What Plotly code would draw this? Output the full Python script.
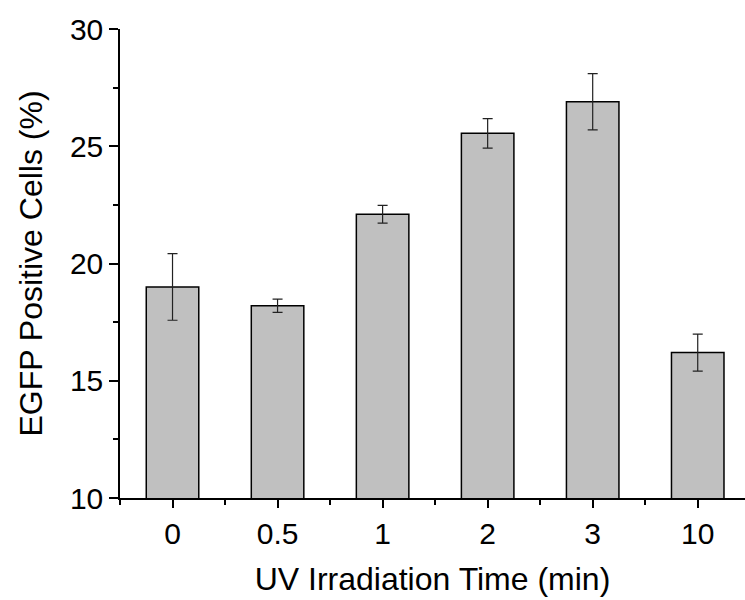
import plotly.graph_objects as go

categories = ["0", "0.5", "1", "2", "3", "10"]
values = [19.0, 18.2, 22.1, 25.55, 26.9, 16.2]
errors = [1.42, 0.28, 0.38, 0.63, 1.2, 0.79]
y_ticks = [10, 15, 20, 25, 30]

xpos = list(range(len(categories)))

fig = go.Figure()
fig.add_trace(go.Bar(
    x=xpos, y=values, width=0.5,
    marker=dict(color="#C0C0C0", line=dict(color="black", width=1.5)),
    error_y=dict(type="data", array=errors, visible=True, color="#222222",
                 thickness=1.2, width=5),
))

font = "Liberation Sans, Arial, sans-serif"
fig.update_layout(
    width=745, height=600,
    margin=dict(l=120, r=0, t=29, b=102),
    plot_bgcolor="white", paper_bgcolor="white",
    showlegend=False,
    font=dict(family=font, size=30, color="black"),
)
fig.update_xaxes(
    range=[-0.5, 5.45], tickmode="array", tickvals=xpos, ticktext=categories,
    showline=True, linecolor="black", linewidth=1.5,
    ticks="outside", ticklen=8, tickwidth=1.5, tickcolor="black",
    minor=dict(ticks="outside", ticklen=5, tickwidth=1.5, tickcolor="black",
               tick0=-0.5, dtick=0.5),
    showgrid=False, zeroline=False,
    title=dict(text="UV Irradiation Time (min)", font=dict(size=32), standoff=19),
    tickfont=dict(size=30),
)
fig.update_yaxes(
    range=[10, 30], tickmode="array", tickvals=y_ticks,
    showline=True, linecolor="black", linewidth=1.5,
    ticks="outside", ticklen=9, tickwidth=1.5, tickcolor="black",
    minor=dict(ticks="outside", ticklen=5, tickwidth=1.5, tickcolor="black",
               tick0=10, dtick=2.5),
    showgrid=False, zeroline=False,
    title=dict(text="EGFP Positive Cells (%)", font=dict(size=32), standoff=18),
    tickfont=dict(size=30),
)

fig.write_html("out.html", config={"displayModeBar": False},
               post_script="document.body.style.margin='0px';")
